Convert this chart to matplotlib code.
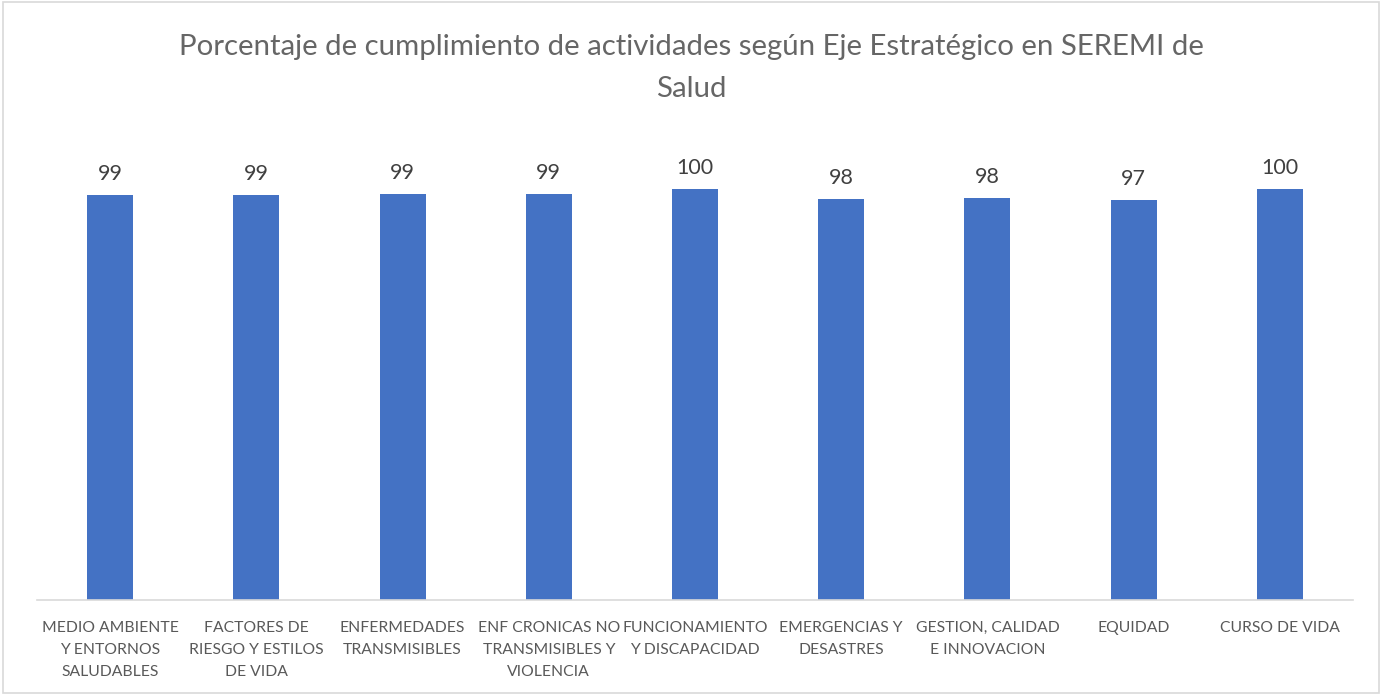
import matplotlib
matplotlib.use("Agg")
import matplotlib.pyplot as plt
from matplotlib.patches import Rectangle

categorias = ["MEDIO AMBIENTE\nY ENTORNOS\nSALUDABLES",
              "FACTORES DE\nRIESGO Y ESTILOS\nDE VIDA",
              "ENFERMEDADES\nTRANSMISIBLES",
              "ENF CRONICAS NO\nTRANSMISIBLES Y\nVIOLENCIA",
              "FUNCIONAMIENTO\nY DISCAPACIDAD",
              "EMERGENCIAS Y\nDESASTRES",
              "GESTION, CALIDAD\nE INNOVACION",
              "EQUIDAD",
              "CURSO DE VIDA"]
porcentajes = [98.6, 98.6, 98.7, 98.8, 100.0, 97.6, 97.8, 97.4, 100.0]

titulo = "Porcentaje de cumplimiento de actividades según Eje Estratégico en SEREMI de\nSalud"

plt.rcParams['font.family'] = ['Lato', 'DejaVu Sans']
gris = '#595959'

fig = plt.figure(figsize=(13.82, 6.94), dpi=100)
ax = fig.add_axes([0.0268, 0.1354, 0.9522, 0.5923])

x = list(range(len(categorias)))
barras = ax.bar(x, porcentajes, width=0.315, color='#4472C4')

for xi, v in zip(x, porcentajes):
    ax.annotate("{:.0f}".format(v), (xi, v), xytext=(0, 8), textcoords='offset points',
                ha='center', va='bottom', fontsize=15.5, color='#404040')

ax.set_xlim(-0.5, len(categorias) - 0.5)
ax.set_ylim(0, 100)
ax.set_xticks(x)
ax.set_xticklabels(categorias, fontsize=11.3, color=gris, linespacing=1.75)
ax.tick_params(axis='x', length=0, pad=15)
ax.set_yticks([])
for s in ['top', 'left', 'right']:
    ax.spines[s].set_visible(False)
ax.spines['bottom'].set_color('#d9d9d9')
ax.spines['bottom'].set_linewidth(1.2)

fig.text(0.5, 1 - 34/694, titulo, ha='center', va='top', fontsize=21.2,
         color='#666666', linespacing=1.75)

# borde del grafico
fig.patches.append(Rectangle((0.002, 0.002), 0.996, 0.995, transform=fig.transFigure,
                             fill=False, edgecolor='#d9d9d9', linewidth=1.2))

plt.savefig("out.png", dpi=100)
